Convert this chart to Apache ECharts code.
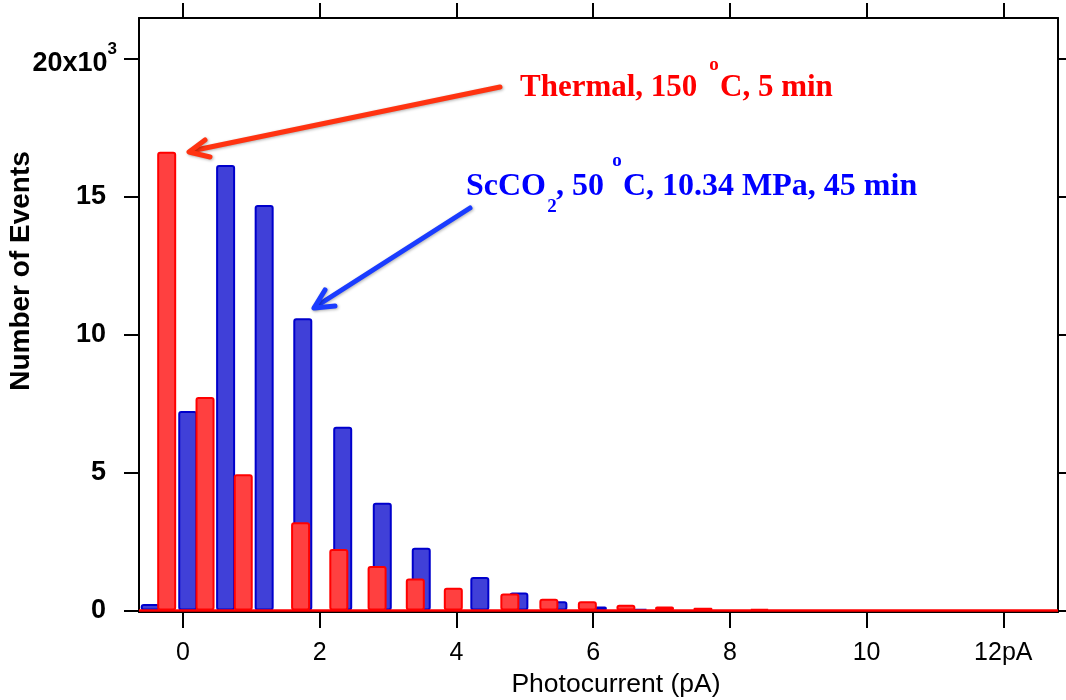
<!DOCTYPE html>
<html><head><meta charset="utf-8">
<script src="https://cdn.jsdelivr.net/npm/echarts@6.0.0/dist/echarts.min.js"></script>
<style>html,body{margin:0;padding:0;background:#fff}#c{width:1066px;height:700px}</style>
</head><body><div id="c"></div>
<script>
// tick labels
const xTicks = [0, 2, 4, 6, 8, 10, 12];
const yTicks = [0, 5000, 10000, 15000, 20000];
// ScCO2, 50 oC, 10.34 MPa, 45 min  (bin centre in pA, number of events)
const scX = [-0.48, 0.069, 0.623, 1.187, 1.752, 2.336, 2.915, 3.485, 4.342, 4.913, 5.484, 6.062, 6.654];
const scY = [240, 7230, 16140, 14690, 10590, 6660, 3910, 2280, 1220, 660, 340, 150, 65];
// Thermal, 150 oC, 5 min
const thX = [-0.239, 0.322, 0.881, 1.720, 2.279, 2.839, 3.398, 3.954, 4.781, 5.352, 5.915, 6.479, 7.044, 7.606, 8.433];
const thY = [16620, 7740, 4940, 3200, 2230, 1620, 1160, 830, 620, 430, 340, 210, 150, 100, 60];

const SANS = '"Liberation Sans", Arial, sans-serif';
const SERIF = '"Liberation Serif", "Times New Roman", serif';
const xMin = -0.644, xMax = 12.8, yMin = -50, yMax = 21460;

const chart = echarts.init(document.getElementById('c'), null, {renderer: 'canvas'});
const axisLine = {show: true, onZero: false, lineStyle: {color: '#000', width: 2}};
const shadow = {shadowBlur: 3, shadowColor: 'rgba(0,0,0,0.3)', shadowOffsetX: 1, shadowOffsetY: 1};
function txt(text, x, y, size, color, align) {
  return {type: 'text', z: 100, style: {text: text, x: x, y: y, fill: color,
    font: 'bold ' + size + 'px ' + SERIF, textAlign: align || 'left', textVerticalAlign: 'middle', verticalAlign: 'middle'}};
}
chart.setOption({
  animation: false,
  backgroundColor: '#fff',
  grid: {left: 139, right: 8, top: 18, bottom: 88, containLabel: false, outerBoundsMode: 'none'},
  xAxis: [{
    type: 'value', position: 'bottom', min: xMin, max: xMax,
    axisLine: axisLine,
    axisTick: {show: true, length: 16, customValues: xTicks, lineStyle: {color: '#000', width: 2}},
    axisLabel: {show: true, customValues: xTicks, margin: 29, color: '#000', fontSize: 25, fontFamily: SANS,
      formatter: v => v === 12 ? '12pA' : String(v)},
    splitLine: {show: false},
    name: 'Photocurrent (pA)', nameLocation: 'middle', nameGap: 55,
    nameTextStyle: {color: '#000', fontSize: 26.5, fontFamily: SANS, padding: [0, 0, 0, 35]}
  }, {
    type: 'value', position: 'top', min: xMin, max: xMax,
    axisLine: axisLine,
    axisTick: {show: true, length: 15, customValues: xTicks, lineStyle: {color: '#000', width: 2}},
    axisLabel: {show: false}, splitLine: {show: false}
  }],
  yAxis: [{
    type: 'value', position: 'left', min: yMin, max: yMax,
    axisLine: axisLine,
    axisTick: {show: true, length: 15, customValues: yTicks, lineStyle: {color: '#000', width: 2}},
    axisLabel: {show: true, customValues: yTicks, margin: 22, color: '#000',
      formatter: v => v === 20000 ? '{c|20x10}{s|3}' : '{b|' + (v / 1000) + '}{p|}',
      rich: {
        b: {fontSize: 27, fontWeight: 'bold', fontFamily: SANS, color: '#000', lineHeight: 27},
        c: {fontSize: 27, fontWeight: 'bold', fontFamily: SANS, color: '#000', lineHeight: 27, padding: [10, 0, 0, 0]},
        s: {fontSize: 17, fontWeight: 'bold', fontFamily: SANS, color: '#000', lineHeight: 17, padding: [0, 0, 18, 0]},
        p: {width: 11}
      }},
    splitLine: {show: false},
    name: 'Number of Events', nameLocation: 'middle', nameRotate: 90, nameGap: 104, nameMoveOverlap: false,
    nameTextStyle: {color: '#000', fontSize: 28, fontWeight: 'bold', fontFamily: SANS, padding: [0, 0, 0, 88]}
  }, {
    type: 'value', position: 'right', min: yMin, max: yMax,
    axisLine: axisLine,
    axisTick: {show: true, length: 12, customValues: yTicks, lineStyle: {color: '#000', width: 2}},
    axisLabel: {show: false}, splitLine: {show: false}
  }],
  series: [{
    type: 'bar', name: 'ScCO2, 50 °C, 10.34 MPa, 45 min', xAxisIndex: 0, yAxisIndex: 0,
    data: scX.map((x, i) => [x, scY[i]]),
    barWidth: 19, barGap: '-100%',
    itemStyle: {color: '#4040d8', borderColor: '#0000cc', borderWidth: 2, borderRadius: 2}
  }, {
    type: 'bar', name: 'Thermal, 150 °C, 5 min', xAxisIndex: 0, yAxisIndex: 0,
    data: thX.map((x, i) => [x, thY[i]]),
    barWidth: 19, barGap: '-100%',
    itemStyle: {color: '#ff4040', borderColor: '#ff0000', borderWidth: 2, borderRadius: 2},
    markLine: {silent: true, symbol: 'none', label: {show: false},
      lineStyle: {color: '#ff0000', width: 2.5, type: 'solid'}, data: [{yAxis: 0}]}
  }],
  graphic: [
    // red arrow
    {type: 'polyline', z: 100, shape: {points: [[500, 87], [191, 151]]},
      style: Object.assign({stroke: '#ff3311', lineWidth: 5, lineCap: 'round', fill: null}, shadow)},
    {type: 'polyline', z: 100, shape: {points: [[205, 140], [189, 152], [210, 157]]},
      style: Object.assign({stroke: '#ff3311', lineWidth: 5, lineCap: 'round', lineJoin: 'round', fill: null}, shadow)},
    // blue arrow
    {type: 'polyline', z: 100, shape: {points: [[470, 208], [315, 307]]},
      style: Object.assign({stroke: '#1a3cff', lineWidth: 5, lineCap: 'round', fill: null}, shadow)},
    {type: 'polyline', z: 100, shape: {points: [[325, 290], [314, 308], [335, 306]]},
      style: Object.assign({stroke: '#1a3cff', lineWidth: 5, lineCap: 'round', lineJoin: 'round', fill: null}, shadow)},
    // red label
    txt('Thermal, 150', 520, 87.5, 31, '#ff0000'),
    txt('o', 714, 65, 19, '#ff0000', 'center'),
    txt('C, 5 min', 720, 87.5, 31, '#ff0000'),
    // blue label
    txt('ScCO', 466, 186.5, 32, '#0000ff'),
    txt('2', 552, 207, 19, '#0000ff', 'center'),
    txt(', 50', 556, 186.5, 32, '#0000ff'),
    txt('o', 617, 161, 19, '#0000ff', 'center'),
    txt('C, 10.34 MPa, 45 min', 623, 186.5, 32, '#0000ff')
  ]
});
</script>
</body></html>
